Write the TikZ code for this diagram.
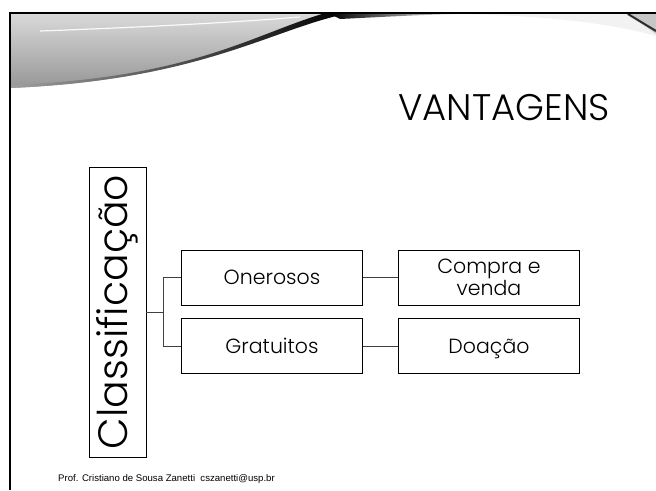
\documentclass[tikz,border=0pt]{standalone}
\usepackage{fontspec}
\setmainfont{Poppins}[UprightFont={* Light}]
\newfontfamily\footfont{Liberation Sans}
\tikzset{
  slidebox/.style = {
    draw, thin, inner sep=0pt,
    minimum width=181pt, minimum height=55pt,
    align=center, font=\fontsize{20.5}{22}\selectfont
  },
  oneline/.style = {text height=14.5pt, text depth=0pt},
  branch/.style = {draw=black!75, thin}
}

\begin{document}
\begin{tikzpicture}[x=1pt,y=-1pt]
  \useasboundingbox (0,0) rectangle (656,490);
  % swoosh
  \shade[top color=gray!30, middle color=gray!65, bottom color=gray!82] (10,14) to (345,14)
    .. controls (270,30) and (200,80) .. (10,88) to cycle;
  \shade[left color=gray!75, right color=black] (10,88)
    .. controls (200,80) and (270,30) .. (345,14) to (322,14)
    .. controls (250,36) and (190,78) .. (10,85) to cycle;
  \shade[left color=black, right color=gray!10] (330,14) to (460,14)
    .. controls (420,15) .. (340,19) to cycle;
  \draw[white, line width=1.2pt, opacity=0.9] (40,31) .. controls (150,27) and (240,22) .. (300,17);
  \fill[gray!10] (460,14) to (656,14) to (656,36) .. controls (600,20) and (520,15) .. (460,14);
  \fill[gray!45] (626,14) to (656,14) to (656,34) .. controls (645,26) .. (626,14);
  \draw[gray!35!black, line width=2pt] (628,14) .. controls (642,22) .. (656,31);
  %
  \draw[line width=2.5pt] (10,490) to (10,13) to (656,13);
  %
  \node[anchor=base east, inner sep=0pt, font=\fontsize{37}{37}\selectfont] (title) at (610,120) {VANTAGENS};
  %
  \node[draw, thin, rotate=90, inner sep=0pt, minimum width=290pt, minimum height=57pt,
    font=\fontsize{41}{41}\selectfont] (cls) at (117.5,312) {Classificação};
  \node[slidebox, oneline] (one) at (272,277.5) {Onerosos};
  \node[slidebox, oneline] (gra) at (272,346) {Gratuitos};
  \node[slidebox] (cv) at (489,277.5) {Compra e\\venda};
  \node[slidebox, oneline] (doa) at (489,346) {Doação};
  %
  \coordinate (fork) at (163,312);
  \draw[branch] (cls.south) to (fork);
  \draw[branch] (one.west) -| (fork);
  \draw[branch] (gra.west) -| (fork);
  \draw[branch] (one.east) to (cv.west);
  \draw[branch] (gra.east) to (doa.west);
  %
  \node[anchor=base west, inner sep=0pt, font=\footfont\fontsize{9.6}{10}\selectfont]
    (foot) at (58,481) {Prof. Cristiano de Sousa Zanetti\ \ cszanetti@usp.br};
\end{tikzpicture}
\end{document}
